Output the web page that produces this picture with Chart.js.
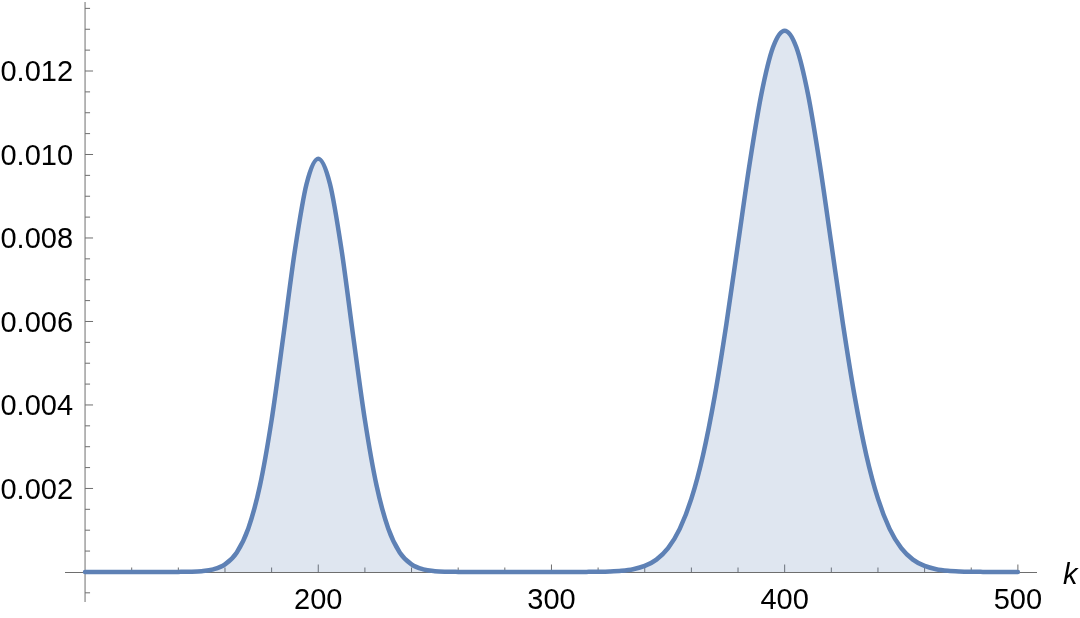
<!DOCTYPE html>
<html>
<head>
<meta charset="utf-8">
<script src="https://cdn.jsdelivr.net/npm/chart.js@4.4.0/dist/chart.umd.min.js"></script>
<style>
  html, body { margin: 0; padding: 0; background: #fff; }
  canvas { display: block; }
</style>
</head>
<body>
<canvas id="distChart" width="1080" height="618"></canvas>
<script>
// k values (x categories)
const kValues = [
  100, 105, 110, 115, 120, 125, 130, 135, 140, 145,
  150, 155, 160, 165, 170, 175, 180, 185, 190, 195,
  200, 205, 210, 215, 220, 225, 230, 235, 240, 245,
  250, 255, 260, 265, 270, 275, 280, 285, 290, 295,
  300, 305, 310, 315, 320, 325, 330, 335, 340, 345,
  350, 355, 360, 365, 370, 375, 380, 385, 390, 395,
  400, 405, 410, 415, 420, 425, 430, 435, 440, 445,
  450, 455, 460, 465, 470, 475, 480, 485, 490, 495,
  500
];

// probability
const probValues = [
  0, 0, 0, 0, 0, 0, 0, 0, 0.0000012, 0.0000051,
  0.0000191, 0.0000625, 0.000181, 0.000462, 0.001041, 0.002069, 0.003640, 0.005640, 0.007710, 0.009300,
  0.009900, 0.009300, 0.007710, 0.005640, 0.003640, 0.002069, 0.001041, 0.000462, 0.000181, 0.0000625,
  0.0000191, 0.0000051, 0.0000012, 0, 0, 0, 0, 0, 0, 0,
  0, 0, 0.0000005, 0.0000015, 0.0000043, 0.0000115, 0.0000284, 0.0000660, 0.000144, 0.000296,
  0.000570, 0.001031, 0.001755, 0.002804, 0.004209, 0.005936, 0.007864, 0.009787, 0.011442, 0.012567,
  0.012966, 0.012567, 0.011442, 0.009787, 0.007864, 0.005936, 0.004209, 0.002804, 0.001755, 0.001031,
  0.000570, 0.000296, 0.000144, 0.0000660, 0.0000284, 0.0000115, 0.0000043, 0.0000015, 0.0000005, 0,
  0
];

// axis ticks
const xMajorTicks = [200, 300, 400, 500];
const xTickLabels = ['200', '300', '400', '500'];
const xMinorTicks = [120, 140, 160, 180, 220, 240, 260, 280, 320, 340, 360, 380, 420, 440, 460, 480];
const yMajorTicks = [0.002, 0.004, 0.006, 0.008, 0.010, 0.012];
const yTickLabels = ['0.002', '0.004', '0.006', '0.008', '0.010', '0.012'];
const yMinorTicks = [-0.0005, 0.0005, 0.001, 0.0015, 0.0025, 0.003, 0.0035, 0.0045, 0.005, 0.0055,
  0.0065, 0.007, 0.0075, 0.0085, 0.009, 0.0095, 0.0105, 0.011, 0.0115, 0.0125, 0.013, 0.0135];
const xAxisLabel = 'k';
const axisOrigin = { x: 100, y: 0 };

const lineColor = '#5E81B5';
const fillColor = 'rgba(94, 129, 181, 0.2)';
const axisColor = '#6e6e6e';
const tickFont = '29px "Liberation Sans", Arial, sans-serif';

// Mathematica-style axes crossing at the origin
const axesPlugin = {
    id: 'mmaAxes',
    beforeDatasetsDraw(chart) {
        const ctx = chart.ctx;
        const xs = chart.scales.x;
        const ys = chart.scales.y;
        const area = chart.chartArea;
        const x0 = xs.getPixelForValue(axisOrigin.x);
        const y0 = Math.round(ys.getPixelForValue(axisOrigin.y)) + 0.5;

        ctx.save();
        ctx.strokeStyle = axisColor;
        ctx.lineWidth = 1;

        // axis lines
        ctx.beginPath();
        ctx.moveTo(area.left, y0);
        ctx.lineTo(area.right, y0);
        ctx.moveTo(x0, area.top);
        ctx.lineTo(x0, area.bottom);
        ctx.stroke();

        // x ticks (pointing up)
        ctx.beginPath();
        xMajorTicks.forEach(v => {
            const px = xs.getPixelForValue(v);
            ctx.moveTo(px, y0);
            ctx.lineTo(px, y0 - 8);
        });
        xMinorTicks.forEach(v => {
            const px = xs.getPixelForValue(v);
            ctx.moveTo(px, y0);
            ctx.lineTo(px, y0 - 5);
        });
        // y ticks (pointing right)
        yMajorTicks.forEach(v => {
            const py = ys.getPixelForValue(v);
            ctx.moveTo(x0, py);
            ctx.lineTo(x0 + 8, py);
        });
        yMinorTicks.forEach(v => {
            const py = ys.getPixelForValue(v);
            ctx.moveTo(x0, py);
            ctx.lineTo(x0 + 5, py);
        });
        ctx.stroke();

        // tick labels
        ctx.fillStyle = '#000';
        ctx.font = tickFont;
        ctx.textBaseline = 'alphabetic';
        ctx.textAlign = 'center';
        xMajorTicks.forEach((v, i) => {
            ctx.fillText(xTickLabels[i], xs.getPixelForValue(v), y0 + 36);
        });
        ctx.textAlign = 'right';
        yMajorTicks.forEach((v, i) => {
            ctx.fillText(yTickLabels[i], x0 - 12, ys.getPixelForValue(v) + 10.4);
        });

        // axis label
        ctx.font = 'italic ' + tickFont;
        ctx.textAlign = 'left';
        ctx.fillText(xAxisLabel, area.right + 26, y0 + 11);
        ctx.restore();
    }
};

const ctx = document.getElementById('distChart').getContext('2d');
const distChart = new Chart(ctx, {
    type: 'line',
    data: {
        datasets: [{
            data: kValues.map((k, i) => ({ x: k, y: probValues[i] })),
            borderColor: lineColor,
            backgroundColor: fillColor,
            borderWidth: 4.5,
            fill: 'origin',
            cubicInterpolationMode: 'monotone',
            pointRadius: 0,
            borderCapStyle: 'round',
            borderJoinStyle: 'round'
        }]
    },
    options: {
        responsive: false,
        animation: false,
        layout: {
            padding: { left: 65, right: 43, top: 2, bottom: 16 }
        },
        plugins: {
            legend: { display: false },
            tooltip: { enabled: false }
        },
        scales: {
            x: { type: 'linear', min: 91.4, max: 508.2, display: false },
            y: { type: 'linear', min: -0.00072, max: 0.013653, display: false }
        }
    },
    plugins: [axesPlugin]
});
</script>
</body>
</html>
